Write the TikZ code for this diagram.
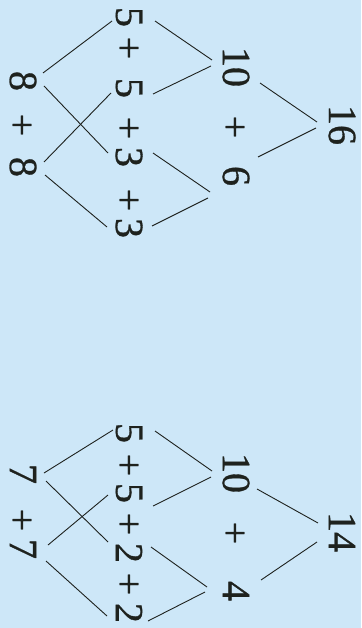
\documentclass[tikz,border=0pt]{standalone}
\usepackage{fontspec}
\setmainfont{Liberation Serif}
\newfontfamily\numfont{Liberation Serif}[FakeBold=0.8]
\usepackage{tikz}
\usepackage{xcolor}
\definecolor{paleBlue}{HTML}{CDE7F8}
\definecolor{inkDark}{HTML}{1E221E}

\begin{document}
\begin{tikzpicture}[x=1pt, y=-1pt,
      every node/.style={font=\numfont\fontsize{40}{46}\selectfont, text=inkDark,
                         inner sep=0pt},
      num/.style={rotate=-90},
      link/.style={draw=inkDark, line width=0.9pt},
    ]
      \fill[paleBlue] (0,0) rectangle (361,628);
      \useasboundingbox (0,0) rectangle (361,628);

      % upper tree: 8 + 8 = 16
      \node[num] (eightA)  at (23,81)   {8};
      \node[num] (plusA)   at (20,125)  {+};
      \node[num] (eightB)  at (23,167)  {8};
      \node[num] (fiveA)   at (129,17)  {5};
      \node[num] (plusB)   at (127,48)  {+};
      \node[num] (fiveB)   at (129,88)  {5};
      \node[num] (plusC)   at (127,128) {+};
      \node[num] (threeA)  at (129,157) {3};
      \node[num] (plusD)   at (127,200) {+};
      \node[num] (threeB)  at (129,228) {3};
      \node[num] (tenA)    at (236,67)  {10};
      \node[num] (plusE)   at (233,127) {+};
      \node[num] (six)     at (236,176) {6};
      \node[num] (sixteen) at (342,125) {16};

      \draw[link] ([shift={(20,-8)}]eightA.center) -- ([shift={(-17,4)}]fiveA.center);
      \draw[link] ([shift={(21,5)}]eightA.center)  -- ([shift={(-21,-4)}]threeA.center);
      \draw[link] ([shift={(21,-5)}]eightB.center) -- ([shift={(-18,5)}]fiveB.center);
      \draw[link] ([shift={(22,8)}]eightB.center)  -- ([shift={(-22,-1)}]threeB.center);
      \draw[link] ([shift={(26,4)}]fiveA.center)   -- ([shift={(-24,-7)}]tenA.center);
      \draw[link] ([shift={(24,6)}]fiveB.center)   -- ([shift={(-25,-1)}]tenA.center);
      \draw[link] ([shift={(24,-4)}]threeA.center) -- ([shift={(-26,16)}]six.center);
      \draw[link] ([shift={(23,-2)}]threeB.center) -- ([shift={(-28,22)}]six.center);
      \draw[link] ([shift={(24,16)}]tenA.center)   -- ([shift={(-25,-3)}]sixteen.center);
      \draw[link] ([shift={(22,-19)}]six.center)   -- ([shift={(-26,3)}]sixteen.center);

      % lower tree: 7 + 7 = 14
      \node[num] (sevenA)   at (23,474)  {7};
      \node[num] (plusF)    at (20,520)  {+};
      \node[num] (sevenB)   at (23,549)  {7};
      \node[num] (fiveC)    at (129,433) {5};
      \node[num] (plusG)    at (127,465) {+};
      \node[num] (fiveD)    at (129,493) {5};
      \node[num] (plusH)    at (127,524) {+};
      \node[num] (twoA)     at (129,553) {2};
      \node[num] (plusI)    at (127,584) {+};
      \node[num] (twoB)     at (129,613) {2};
      \node[num] (tenB)     at (236,473) {10};
      \node[num] (plusJ)    at (233,533) {+};
      \node[num] (four)     at (236,591) {4};
      \node[num] (fourteen) at (342,532) {14};

      \draw[link] ([shift={(21,-1)}]sevenA.center) -- ([shift={(-16,-3)}]fiveC.center);
      \draw[link] ([shift={(23,7)}]sevenA.center)  -- ([shift={(-21,-11)}]twoA.center);
      \draw[link] ([shift={(25,-4)}]sevenB.center) -- ([shift={(-21,2)}]fiveD.center);
      \draw[link] ([shift={(23,12)}]sevenB.center) -- ([shift={(-22,3)}]twoB.center);
      \draw[link] ([shift={(26,-2)}]fiveC.center)  -- ([shift={(-24,-2)}]tenB.center);
      \draw[link] ([shift={(24,13)}]fiveD.center)  -- ([shift={(-25,4)}]tenB.center);
      \draw[link] ([shift={(22,-6)}]twoA.center)   -- ([shift={(-29,-4)}]four.center);
      \draw[link] ([shift={(19,8)}]twoB.center)    -- ([shift={(-31,1)}]four.center);
      \draw[link] ([shift={(21,16)}]tenB.center)   -- ([shift={(-24,-9)}]fourteen.center);
      \draw[link] ([shift={(25,-11)}]four.center)  -- ([shift={(-25,10)}]fourteen.center);
    \end{tikzpicture}
\end{document}
